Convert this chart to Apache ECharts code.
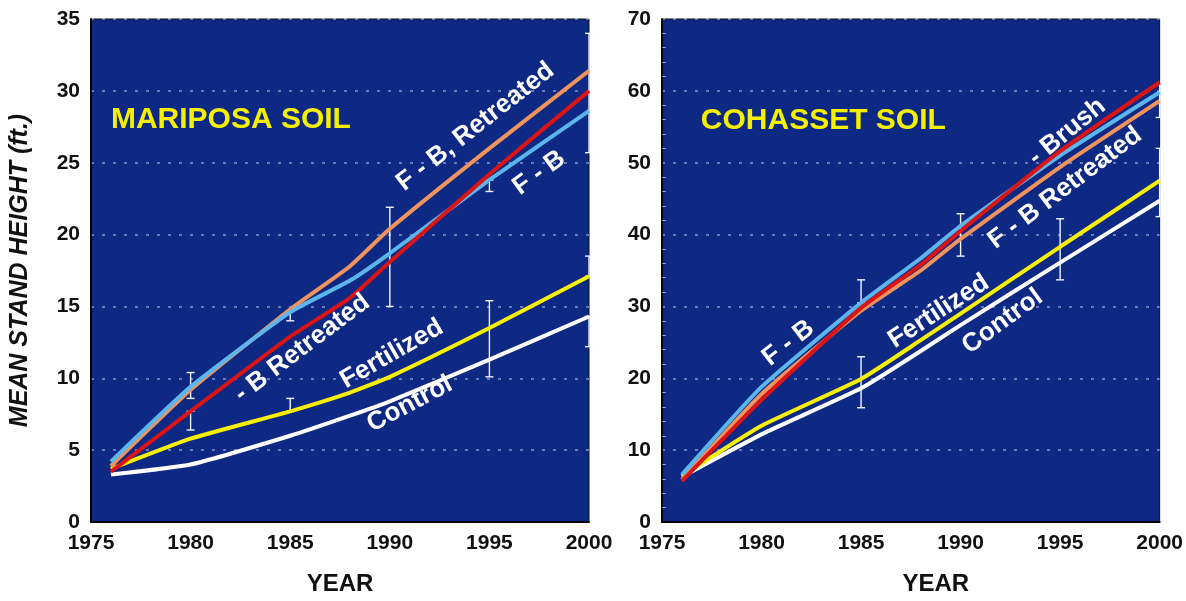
<!DOCTYPE html>
<html>
<head>
<meta charset="utf-8">
<script src="https://cdn.jsdelivr.net/npm/echarts@6/dist/echarts.min.js"></script>
<style>
  html, body { margin: 0; padding: 0; background: #fff; }
  #chart { width: 1186px; height: 601px; }
</style>
</head>
<body>
<div id="chart"></div>
<script>
// sample years (same for both soils)
const years = [1976, 1980, 1985, 1988, 1990, 1995, 2000];

// Mariposa soil, mean stand height (ft.)
const mariposaControl = [3.3, 4.0, 6.0, 7.4, 8.4, 11.3, 14.3];
const mariposaFertilized = [3.7, 5.8, 7.7, 9.0, 10.1, 13.5, 17.1];
const mariposaFB = [4.2, 9.4, 14.6, 16.8, 18.7, 23.8, 28.6];
const mariposaFBRetreated = [3.9, 9.2, 14.8, 17.8, 20.4, 26.0, 31.4];
const mariposaBRetreated = [3.5, 7.7, 12.9, 15.6, 18.1, 24.2, 30.0];
// [year, low, high]
const mariposaBars = [
  [1980, 8.6, 10.4], [1980, 6.4, 7.7], [1985, 14.0, 14.7], [1985, 7.7, 8.6],
  [1990, 15.0, 21.9], [1995, 23.0, 23.8], [1995, 10.1, 15.4],
  [2000, 25.7, 34.0], [2000, 17.1, 18.5], [2000, 12.2, 14.3]
];

// Cohasset soil
const cohassetControl = [6.3, 12.2, 18.6, 23.8, 27.4, 36.1, 44.7];
const cohassetFertilized = [6.4, 13.4, 19.9, 25.3, 29.0, 38.3, 47.5];
const cohassetFB = [6.6, 18.8, 30.5, 36.7, 41.2, 51.0, 59.8];
const cohassetFBRetreated = [5.9, 17.8, 29.4, 35.0, 39.4, 49.4, 58.6];
const cohassetBrush = [5.7, 17.0, 29.8, 35.8, 40.5, 51.6, 61.2];
const cohassetBars = [
  [1985, 30.5, 33.7], [1985, 15.9, 23.0], [1990, 37.0, 42.9],
  [1995, 33.7, 42.2], [2000, 56.3, 60.9], [2000, 42.5, 52.0]
];

const xTicks = [1975, 1980, 1985, 1990, 1995, 2000];

// text placed on the plots: [grid, text, year, value, angle, colour, size, align]
const labels = [
  [0, 'MARIPOSA SOIL', 1976.0, 28.0, 0, '#f5f000', 30, 'left'],
  [0, 'F - B, Retreated', 1994.3, 27.5, 38, '#fff', 26, 'center'],
  [0, 'F - B', 1997.5, 24.3, 36, '#fff', 26, 'center'],
  [0, '- B Retreated', 1985.6, 12.1, 37, '#fff', 26, 'center'],
  [0, 'Fertilized', 1990.1, 11.7, 30, '#fff', 26, 'center'],
  [0, 'Control', 1991.0, 8.2, 28, '#fff', 26, 'center'],
  [1, 'COHASSET SOIL', 1976.95, 55.8, 0, '#f5f000', 30, 'left'],
  [1, '- Brush', 1995.35, 54.3, 39, '#fff', 26, 'center'],
  [1, 'F - B Retreated', 1995.25, 46.5, 37, '#fff', 26, 'center'],
  [1, 'F - B', 1981.35, 24.9, 38, '#fff', 26, 'center'],
  [1, 'Fertilized', 1988.9, 29.3, 33, '#fff', 26, 'center'],
  [1, 'Control', 1992.1, 27.9, 36, '#fff', 26, 'center']
];

const FONT = '"Liberation Sans", Arial, sans-serif';
const BG = '#0d2984';
const colors = {
  control: '#ffffff',
  fertilized: '#f8f000',
  fb: '#5cb6ee',
  retreated: '#f0935c',
  red: '#dc1414'
};

function pairs(vals) {
  return years.map((y, i) => [y, vals[i]]);
}

function lineSeries(idx, name, vals, color, z) {
  return {
    name: name,
    type: 'line',
    xAxisIndex: idx,
    yAxisIndex: idx,
    data: pairs(vals),
    showSymbol: false,
    smooth: 0.15,
    z: z,
    lineStyle: { color: color, width: 4 }
  };
}

function errorBars(idx, bars) {
  return {
    type: 'custom',
    xAxisIndex: idx,
    yAxisIndex: idx,
    z: 1,
    encode: { x: 0, y: [1, 2] },
    data: bars,
    renderItem: function (params, api) {
      const hi = api.coord([api.value(0), api.value(2)]);
      const lo = api.coord([api.value(0), api.value(1)]);
      const w = 4;
      const st = { stroke: '#f4f4ff', lineWidth: 1.4 };
      return {
        type: 'group',
        children: [
          { type: 'line', shape: { x1: hi[0], y1: hi[1], x2: lo[0], y2: lo[1] }, style: st },
          { type: 'line', shape: { x1: hi[0] - w, y1: hi[1], x2: hi[0] + w, y2: hi[1] }, style: st },
          { type: 'line', shape: { x1: lo[0] - w, y1: lo[1], x2: lo[0] + w, y2: lo[1] }, style: st }
        ]
      };
    }
  };
}

function xAxis(idx, namePad) {
  return {
    type: 'value',
    gridIndex: idx,
    min: 1975,
    max: 2000,
    interval: 5,
    name: 'YEAR',
    nameLocation: 'middle',
    nameGap: 50,
    nameTextStyle: { color: '#111', fontSize: 24, fontWeight: 'bold', fontFamily: FONT, padding: namePad },
    axisLine: { show: true, lineStyle: { color: '#000', width: 2 } },
    axisTick: { show: false },
    splitLine: { show: false },
    axisLabel: {
      color: '#111', fontSize: 21, fontWeight: 'bold', fontFamily: FONT, margin: 11,
      formatter: v => (xTicks.indexOf(v) >= 0 ? String(v) : '')
    }
  };
}

function yAxis(idx, max, interval, withName) {
  return {
    type: 'value',
    gridIndex: idx,
    min: 0,
    max: max,
    interval: interval,
    name: withName ? 'MEAN STAND HEIGHT (ft.)' : '',
    nameLocation: 'middle',
    nameGap: 58,
    nameTextStyle: { color: '#111', fontSize: 25, fontWeight: 'bold', fontStyle: 'italic', fontFamily: FONT },
    axisLine: { show: true, lineStyle: { color: '#000', width: 2 } },
    axisTick: { show: false, inside: true },
    minorTick: idx === 1
      ? { show: true, splitNumber: 5, length: 4, lineStyle: { color: 'rgba(220,225,255,0.6)' } }
      : { show: false },
    splitLine: { show: true, lineStyle: { color: 'rgba(215,225,255,0.6)', width: 1.5, type: [3, 8] } },
    axisLabel: { color: '#111', fontSize: 21, fontWeight: 'bold', fontFamily: FONT, margin: 11 }
  };
}

const chart = echarts.init(document.getElementById('chart'));

chart.setOption({
  backgroundColor: '#ffffff',
  animation: false,
  grid: [
    { left: 91, right: 597, top: 19, bottom: 74, show: true, backgroundColor: BG, borderColor: '#111', borderWidth: 1 },
    { left: 662, right: 23, top: 19, bottom: 73, show: true, backgroundColor: BG, borderColor: '#111', borderWidth: 1 }
  ],
  xAxis: [xAxis(0, [0, 0, 0, 0]), xAxis(1, [0, 0, 0, 50])],
  yAxis: [yAxis(0, 35, 5, true), yAxis(1, 70, 10, false)],
  series: [
    errorBars(0, mariposaBars),
    lineSeries(0, 'Control', mariposaControl, colors.control, 2),
    lineSeries(0, 'Fertilized', mariposaFertilized, colors.fertilized, 3),
    lineSeries(0, 'F - B, Retreated', mariposaFBRetreated, colors.retreated, 4),
    lineSeries(0, 'F - B', mariposaFB, colors.fb, 5),
    lineSeries(0, 'F - B Retreated', mariposaBRetreated, colors.red, 6),
    errorBars(1, cohassetBars),
    lineSeries(1, 'Control', cohassetControl, colors.control, 2),
    lineSeries(1, 'Fertilized', cohassetFertilized, colors.fertilized, 3),
    lineSeries(1, 'F - B Retreated', cohassetFBRetreated, colors.retreated, 4),
    lineSeries(1, 'F - B', cohassetFB, colors.fb, 5),
    lineSeries(1, 'F - B - Brush', cohassetBrush, colors.red, 6)
  ]
});

// put the in-plot labels where the data coordinates land
const texts = labels.map(function (l) {
  const p = chart.convertToPixel({ gridIndex: l[0] }, [l[2], l[3]]);
  return {
    type: 'text',
    x: p[0],
    y: p[1],
    rotation: l[4] * Math.PI / 180,
    z: 100,
    style: {
      text: l[1],
      fill: l[5],
      fontSize: l[6],
      fontWeight: 'bold',
      fontFamily: FONT,
      align: l[7],
      verticalAlign: 'middle'
    }
  };
});
chart.setOption({ graphic: texts });
</script>
</body>
</html>
